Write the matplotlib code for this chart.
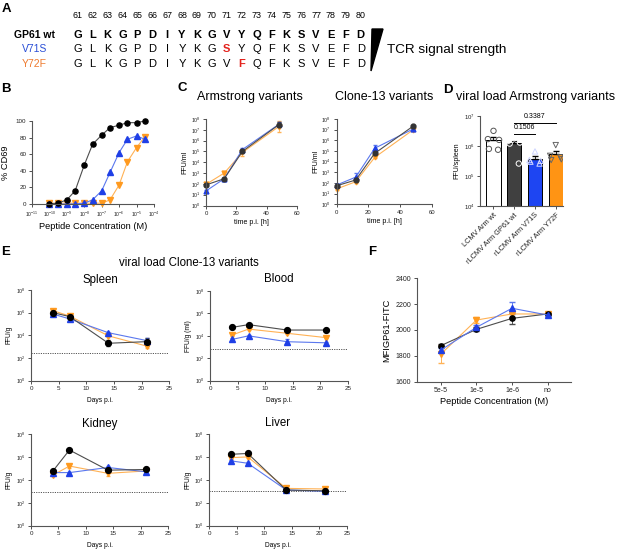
import numpy as np
import matplotlib
matplotlib.use("Agg")
import matplotlib.pyplot as plt
from matplotlib.patches import Polygon

plt.rcParams['font.family'] = ['Liberation Sans', 'DejaVu Sans']
plt.rcParams['mathtext.fontset'] = 'custom'
plt.rcParams['mathtext.rm'] = 'Liberation Sans'
plt.rcParams['mathtext.it'] = 'Liberation Sans:italic'
plt.rcParams['mathtext.bf'] = 'Liberation Sans:bold'

# ---------- data ----------
# A: peptide sequences
residue_numbers = list(range(61, 81))
seq_wt = list("GLKGPDIYKGVYQFKSVEFD")
seq_v71s = list("GLKGPDIYKGSYQFKSVEFD")
seq_y72f = list("GLKGPDIYKGVFQFKSVEFD")
row_names = ["GP61 wt", "V71S", "Y72F"]

# B: % CD69 vs peptide concentration (M)
conc_b = [1e-10, 3e-10, 1e-9, 3e-9, 1e-8, 3e-8, 1e-7, 3e-7, 1e-6, 3e-6, 1e-5, 3e-5]
cd69_wt = [0, 1, 5, 16, 47, 72, 83, 92, 95, 98, 98, 100]
cd69_v71s = [0, 0, 0, 0, 1, 5, 16, 38, 62, 78, 82, 78]
cd69_y72f = [1, 1, 1, 1, 1, 1, 1, 5, 23, 51, 68, 81]

# C: growth curves (FFU/ml)
time_h = [0, 12, 24, 48]
arm_wt = [80, 300, 1.0e5, 3.0e7]
arm_v71s = [22, 300, 1.5e5, 3.2e7]
arm_y72f = [90, 1000, 8.0e4, 2.0e7]
arm_err_wt = [0.1, 0.05, 0.1, 0.25]
arm_err_v71s = [0.08, 0.05, 0.1, 0.2]
arm_err_y72f = [0.08, 0.08, 0.3, 0.5]
cl13_wt = [55, 190, 6.0e4, 2.0e7]
cl13_v71s = [65, 350, 1.8e5, 1.1e7]
cl13_y72f = [28, 130, 2.5e4, 9.0e6]
cl13_err_wt = [0.1, 0.1, 0.1, 0.05]
cl13_err_v71s = [0.1, 0.35, 0.35, 0.05]
cl13_err_y72f = [0.1, 0.1, 0.1, 0.05]

# D: viral load spleen (FFU/spleen)
d_groups = ["LCMV Arm wt", "rLCMV Arm GP61 wt", "rLCMV Arm V71S", "rLCMV Arm Y72F"]
d_lcmv_wt = [3.2e6, 1.7e6, 1.6e6, 8.0e5, 7.5e5]
d_gp61_wt = [1.8e6, 1.5e6, 1.3e6, 1.2e6, 2.6e5]
d_v71s = [6.6e5, 3.4e5, 3.2e5, 3.0e5, 2.6e5]
d_y72f = [1.07e6, 4.7e5, 3.6e5, 3.4e5, 4.2e5]
d_pvals = ["0.1506", "0.3387"]

# E: viral load Clone-13 variants
days = [4, 7, 14, 21]
organs = ["Spleen", "Blood", "Kidney", "Liver"]
organ_ylabels = ["FFU/g", "FFU/g (ml)", "FFU/g", "FFU/g"]
spleen_wt = [1.0e6, 4.5e5, 2.0e3, 2.8e3]
spleen_v71s = [7.5e5, 2.8e5, 1.7e4, 3.4e3]
spleen_y72f = [1.5e6, 5.0e5, 9.0e3, 1.1e3]
blood_wt = [5.7e4, 1.0e5, 3.3e4, 3.3e4]
blood_v71s = [4.8e3, 1.0e4, 3.0e3, 2.4e3]
blood_y72f = [1.2e4, 4.0e4, 1.7e4, 7.0e3]
kidney_wt = [6.0e4, 4.0e6, 7.0e4, 8.0e4]
kidney_v71s = [4.3e4, 4.3e4, 1.2e5, 5.0e4]
kidney_y72f = [2.6e4, 1.6e5, 3.7e4, 6.0e4]
liver_wt = [1.7e6, 2.0e6, 1.3e3, 1.1e3]
liver_v71s = [4.5e5, 2.8e5, 1.3e3, 1.0e3]
liver_y72f = [8.7e5, 1.0e6, 1.8e3, 1.6e3]
organ_lod = [260, 660, 800, 1150]
organ_err = {
    "Spleen": ([0.08, 0.08, 0.25, 0.35], [0.05, 0.05, 0.08, 0.25], [0.08, 0.05, 0.1, 0.2]),
    "Blood": ([0.05, 0.05, 0.05, 0.05], [0.1, 0.05, 0.2, 0.1], [0.08, 0.08, 0.1, 0.08]),
    "Kidney": ([0.1, 0.05, 0.1, 0.05], [0.05, 0.05, 0.15, 0.05], [0.1, 0.15, 0.2, 0.05]),
    "Liver": ([0.08, 0.08, 0.05, 0.05], [0.08, 0.08, 0.05, 0.05], [0.08, 0.08, 0.05, 0.05]),
}

# F: MFI GP61-FITC
f_conc = ["5e-5", "1e-5", "1e-6", "no"]
f_wt = [1879, 2005, 2090, 2124]
f_v71s = [1845, 2021, 2168, 2116]
f_y72f = [1814, 2077, 2124, 2124]
f_err_wt = [10, 15, 45, 10]
f_err_v71s = [15, 20, 45, 10]
f_err_y72f = [70, 25, 20, 10]

# ---------- style ----------
BLACK = "#000000"
BLACK_LINE = "#4d4d4d"
BLUE = "#1f3fe6"
BLUE_LINE = "#5b78ee"
ORANGE = "#ff9a1f"
ORANGE_LINE = "#ffb255"
RED = "#e3221c"
W, H = 617, 553


def px_axes(fig, x0, y0, x1, y1):
    # pixel box (left, top, right, bottom) -> axes
    return fig.add_axes([x0 / W, 1 - y1 / H, (x1 - x0) / W, (y1 - y0) / H])


def prism(ax, fs=4.5):
    for s in ["top", "right"]:
        ax.spines[s].set_visible(False)
    for s in ["left", "bottom"]:
        ax.spines[s].set_linewidth(0.8)
        ax.spines[s].set_color("#555555")
    ax.tick_params(direction="out", length=2.5, width=0.6, labelsize=fs,
                   pad=1.5, colors="#333333", labelcolor="#222222")
    ax.minorticks_off()


def logerr(vals, errs):
    v = np.array(vals, float)
    e = np.array(errs, float)
    return [v - v / 10 ** e, v * 10 ** e - v]


def log_ticks(ax, lo, hi, step):
    ex = list(range(lo, hi + 1, step))
    ax.set_yticks([10.0 ** k for k in ex])
    ax.set_yticklabels([f"$10^{{{k}}}$" for k in ex])


fig = plt.figure(figsize=(W / 100, H / 100), dpi=100)

# overlay for free text (pixel coordinates)
ov = fig.add_axes([0, 0, 1, 1])
ov.set_xlim(0, W)
ov.set_ylim(H, 0)
ov.axis("off")

# ---------- A ----------
col_x = [77.7 + i * 14.9 for i in range(len(residue_numbers))]
row_y = [34.5, 49.5, 64]
for x, n in zip(col_x, residue_numbers):
    ov.text(x, 16, str(n), ha="center", va="center", fontsize=6.4)
name_colors = [BLACK, "#2a4fd6", "#ee7a2e"]
for r, (name, seq) in enumerate(zip(row_names, [seq_wt, seq_v71s, seq_y72f])):
    ov.text(34.5, row_y[r], name, ha="center", va="center", fontsize=7.5,
            color=name_colors[r], fontweight="bold" if r == 0 else "normal")
    for i, (x, aa) in enumerate(zip(col_x, seq)):
        mutated = r > 0 and aa != seq_wt[i]
        ov.text(x, row_y[r], aa, ha="center", va="center", fontsize=8,
                fontweight="bold" if (r == 0 or mutated) else "normal",
                color=RED if mutated else BLACK)
ov.add_patch(Polygon([(372, 29), (383, 29), (371, 71)], closed=True, color="black"))
ov.text(387, 49.5, "TCR signal strength", ha="left", va="center", fontsize=9.7)

# panel letters and titles
for lab, x, y in [("A", 6, 9), ("B", 6, 89), ("C", 182, 88), ("D", 448, 90),
                  ("E", 6, 252), ("F", 372, 252)]:
    ov.text(x, y, lab, ha="center", va="center", fontsize=9.5, fontweight="bold")
ov.text(250, 97, "Armstrong variants", ha="center", va="center", fontsize=9)
ov.text(384, 97, "Clone-13 variants", ha="center", va="center", fontsize=9)
ov.text(536, 97, "viral load Armstrong variants", ha="center", va="center", fontsize=9)
ov.text(189, 263, "viral load Clone-13 variants", ha="center", va="center", fontsize=8.3)

# ---------- B ----------
axB = px_axes(fig, 32, 121, 154, 204)
for yv, c, lc, m in [(cd69_y72f, ORANGE, ORANGE_LINE, "v"),
                     (cd69_v71s, BLUE, BLUE_LINE, "^"),
                     (cd69_wt, BLACK, BLACK_LINE, "o")]:
    axB.plot(conc_b, yv, color=lc, lw=0.8, marker=m, ms=3.7, mfc=c, mec=c, clip_on=False)
axB.set_xscale("log")
axB.set_xlim(1e-11, 1e-4)
axB.set_ylim(0, 100)
axB.set_yticks([0, 20, 40, 60, 80, 100])
prism(axB, 4.5)
axB.set_xticks([10.0 ** k for k in range(-11, -3)])
axB.set_xticklabels([f"$10^{{{k}}}$" for k in range(-11, -3)], fontsize=3.6)
axB.minorticks_off()
axB.set_xlabel("Peptide Concentration (M)", fontsize=6.7, labelpad=2)
axB.set_ylabel("% CD69", fontsize=6.7, labelpad=4)

# ---------- C ----------
for box, sets in [((206, 119, 297, 205.5),
                   [(arm_y72f, arm_err_y72f, ORANGE, ORANGE_LINE, "v"),
                    (arm_v71s, arm_err_v71s, BLUE, BLUE_LINE, "^"),
                    (arm_wt, arm_err_wt, "#333333", BLACK_LINE, "o")]),
                  ((336.7, 119, 431.7, 204.3),
                   [(cl13_y72f, cl13_err_y72f, ORANGE, ORANGE_LINE, "v"),
                    (cl13_v71s, cl13_err_v71s, BLUE, BLUE_LINE, "^"),
                    (cl13_wt, cl13_err_wt, "#333333", BLACK_LINE, "o")])]:
    ax = px_axes(fig, *box)
    for yv, er, c, lc, m in sets:
        ax.errorbar(time_h, yv, yerr=logerr(yv, er), color=lc, lw=0.8, marker=m,
                    ms=3.5, mfc=c, mec=c, ecolor=lc, elinewidth=0.6, capsize=1.5,
                    clip_on=False)
    ax.set_yscale("log")
    ax.set_ylim(1, 1e8)
    ax.set_xlim(0, 60)
    ax.set_xticks([0, 20, 40, 60])
    prism(ax, 4.3)
    log_ticks(ax, 0, 8, 1)
    ax.tick_params(axis="y", labelsize=3.8)
    ax.set_xlabel("time p.i. [h]", fontsize=5, labelpad=2)
    ax.set_ylabel("FFU/ml", fontsize=5, labelpad=1.5)

# ---------- D ----------
axD = px_axes(fig, 480, 116, 563, 206)
d_points = [d_lcmv_wt, d_gp61_wt, d_v71s, d_y72f]
d_face = ["white", "#404040", "#1e45f2", "#ff9414"]
d_mark = ["o", "o", "^", "v"]
d_edge = ["#555555", "white", "#cfd6ff", "#666666"]
jitter = [0.0, -0.27, 0.27, -0.22, 0.22]
for i, pts in enumerate(d_points):
    mean = np.mean(pts)
    sem = np.std(pts, ddof=1) / np.sqrt(len(pts))
    axD.bar(i, mean, width=0.68, color=d_face[i], edgecolor="black", lw=0.7, zorder=2)
    axD.errorbar(i, mean, yerr=[[0], [sem]], color="black", lw=0.6, capsize=2,
                 zorder=3)
    axD.scatter([i + j for j in jitter], pts, marker=d_mark[i], s=15,
                facecolors="none", edgecolors=d_edge[i], linewidths=0.7, zorder=4)
axD.set_yscale("log")
axD.set_ylim(1e4, 1e7)
axD.set_xlim(-0.65, 3.35)
prism(axD, 4.3)
log_ticks(axD, 4, 7, 1)
axD.set_xticks(range(4))
axD.set_xticklabels(d_groups, rotation=45, ha="right", rotation_mode="anchor",
                    fontsize=5.3)
axD.set_ylabel("FFU/spleen", fontsize=5, labelpad=2)
for (x0, x1), yb, txt in [((1, 2), 2.6e6, d_pvals[0]), ((1, 3), 5.9e6, d_pvals[1])]:
    axD.plot([x0, x1], [yb, yb], color="black", lw=0.7, clip_on=False)
    axD.text((x0 + x1) / 2, yb * 1.25, txt, ha="center", va="bottom", fontsize=5)

# ---------- E ----------
organ_boxes = [(31, 290, 169.3, 380.7), (210, 291, 347.7, 380.7),
               (31, 434, 168.3, 525.7), (209.3, 434, 346.7, 525.7)]
organ_data = [(spleen_wt, spleen_v71s, spleen_y72f), (blood_wt, blood_v71s, blood_y72f),
              (kidney_wt, kidney_v71s, kidney_y72f), (liver_wt, liver_v71s, liver_y72f)]
title_y = [279.5, 279.5, 423.5, 423.5]
for k, organ in enumerate(organs):
    ax = px_axes(fig, *organ_boxes[k])
    wt, v71s, y72f = organ_data[k]
    e_wt, e_v, e_y = organ_err[organ]
    ax.axhline(organ_lod[k], color="#555555", lw=0.7, ls=(0, (1.2, 1.2)))
    for yv, er, c, lc, m in [(y72f, e_y, ORANGE, ORANGE_LINE, "v"),
                             (v71s, e_v, BLUE, BLUE_LINE, "^"),
                             (wt, e_wt, BLACK, BLACK_LINE, "o")]:
        ax.errorbar(days, yv, yerr=logerr(yv, er), color=lc, lw=0.8, marker=m,
                    ms=4.2 if m == "o" else 3.8, mfc=c, mec=c, ecolor=lc,
                    elinewidth=0.6, capsize=1.5)
    ax.set_yscale("log")
    ax.set_ylim(1, 1e8)
    ax.set_xlim(0, 25)
    ax.set_xticks([0, 5, 10, 15, 20, 25])
    prism(ax, 4.5)
    log_ticks(ax, 0, 8, 2)
    ax.tick_params(axis="y", labelsize=3.8)
    ax.set_xlabel("Days p.i.", fontsize=4.8, labelpad=4)
    ax.set_ylabel(organ_ylabels[k], fontsize=4.8, labelpad=2)
    bx = organ_boxes[k]
    ov.text((bx[0] + bx[2]) / 2, title_y[k], organ, ha="center", va="center",
            fontsize=8.3)

# ---------- F ----------
axF = px_axes(fig, 416.7, 278.3, 570.7, 381.7)
xf = np.arange(len(f_conc))
for yv, er, c, lc, m in [(f_y72f, f_err_y72f, ORANGE, ORANGE_LINE, "v"),
                         (f_wt, f_err_wt, BLACK, BLACK_LINE, "o"),
                         (f_v71s, f_err_v71s, BLUE, BLUE_LINE, "^")]:
    axF.errorbar(xf, yv, yerr=er, color=lc, lw=0.8, marker=m, ms=3.8, mfc=c,
                 mec=c, ecolor=lc, elinewidth=0.7, capsize=2)
axF.set_ylim(1600, 2400)
axF.set_yticks([1600, 1800, 2000, 2200, 2400])
axF.set_xlim(-0.68, 3.65)
axF.set_xticks(xf)
axF.set_xticklabels(f_conc)
prism(axF, 5)
axF.set_xlabel("Peptide Concentration (M)", fontsize=6.7, labelpad=2)
axF.set_ylabel("MFIGP61-FITC", fontsize=6.7, labelpad=3)

fig.savefig("out.png", dpi=100)
